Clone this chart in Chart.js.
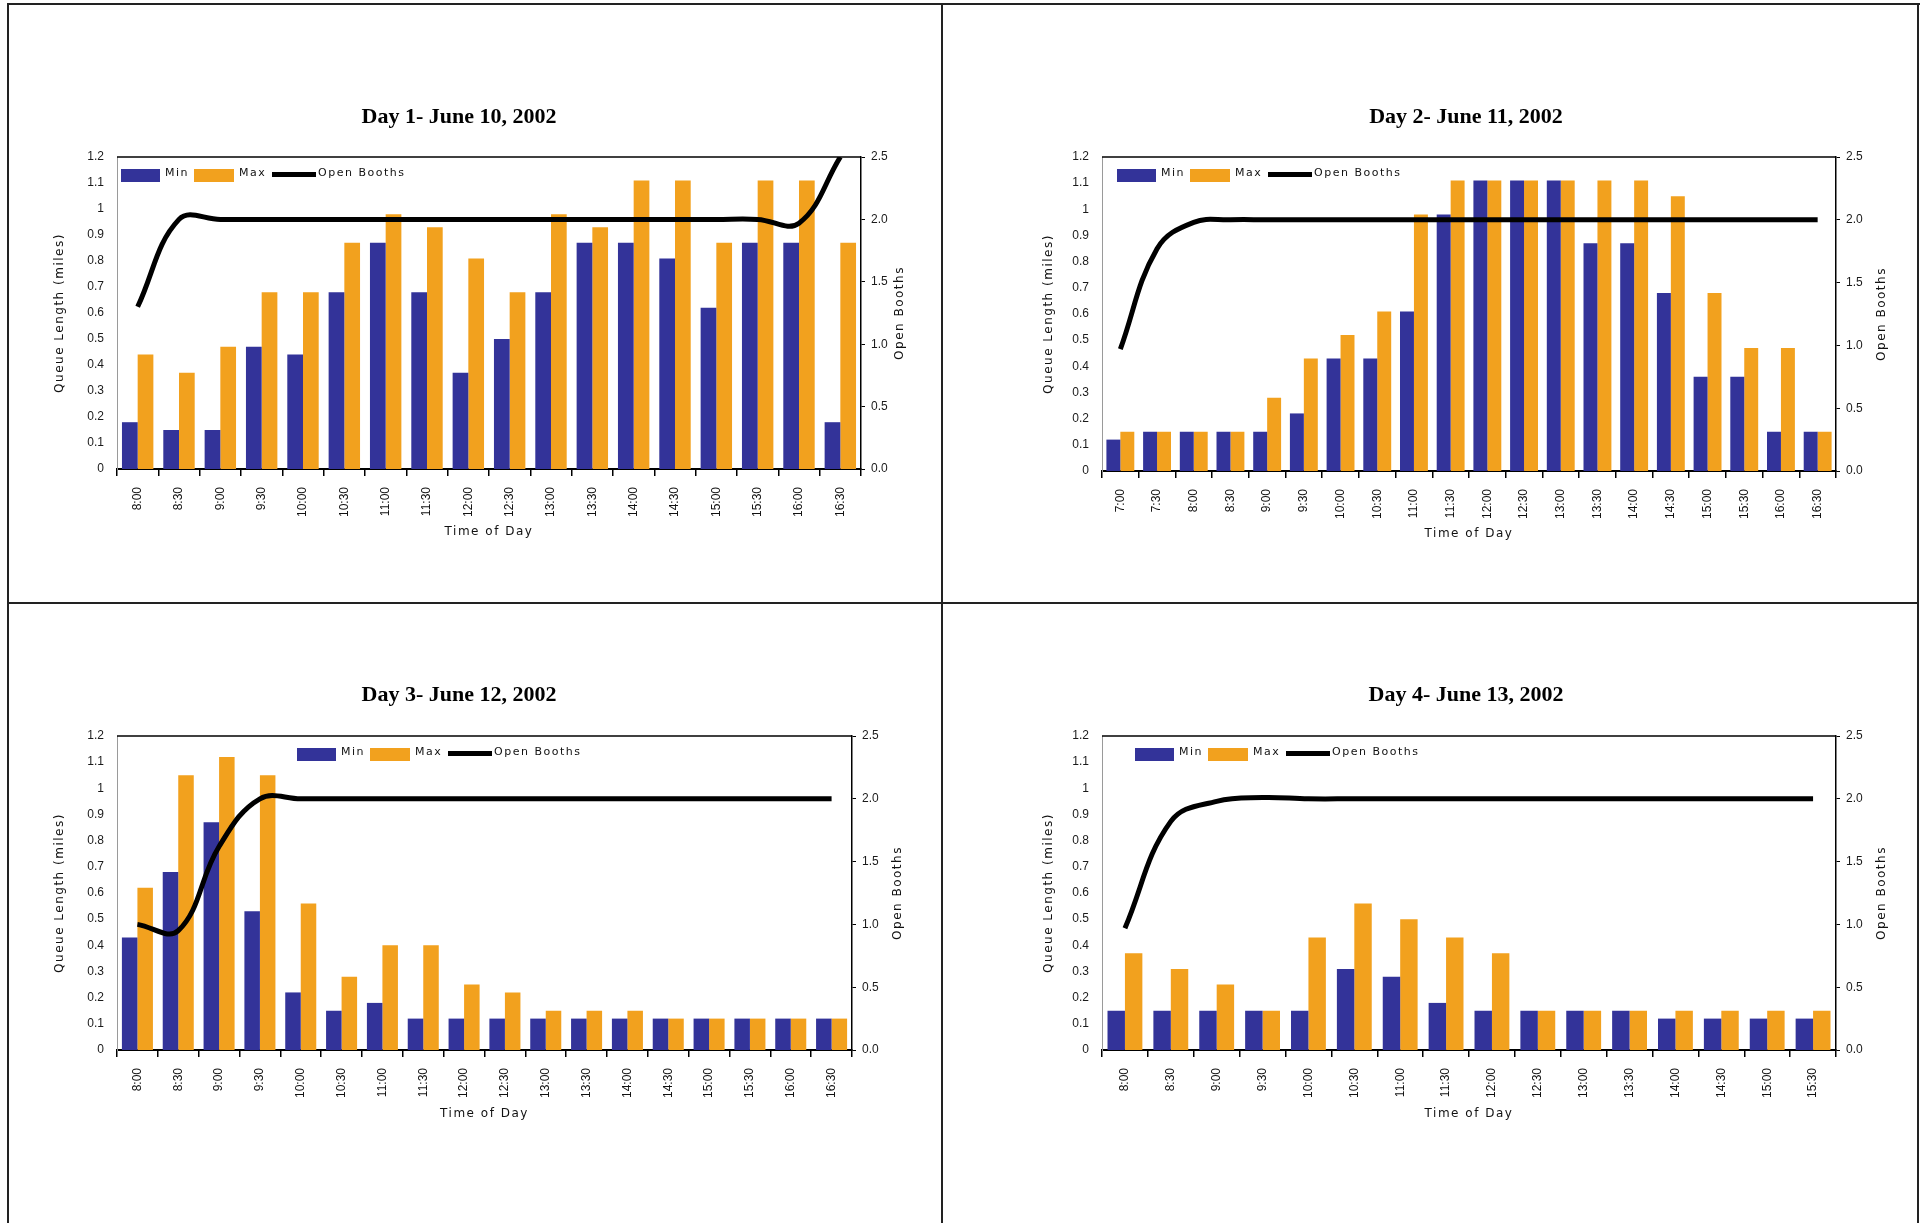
<!DOCTYPE html>
<html>
<head>
<meta charset="utf-8">
<script src="https://cdn.jsdelivr.net/npm/chart.js@4.4.0/dist/chart.umd.min.js"></script>
<style>
  html, body { margin: 0; padding: 0; background: #fff; overflow: hidden; }
  #page { position: relative; width: 1925px; height: 1223px; }
  .rule { position: absolute; background: #222; }
  canvas { position: absolute; }
</style>
</head>
<body>
<div id="page">
  <div class="rule" style="left:7px;top:3px;width:1913px;height:2px"></div>
  <div class="rule" style="left:7px;top:3px;width:2px;height:1220px"></div>
  <div class="rule" style="left:1917px;top:3px;width:2px;height:1220px"></div>
  <div class="rule" style="left:941px;top:3px;width:2px;height:1220px"></div>
  <div class="rule" style="left:7px;top:602px;width:1912px;height:2px"></div>
  <canvas id="day1"></canvas>
  <canvas id="day2"></canvas>
  <canvas id="day3"></canvas>
  <canvas id="day4"></canvas>
</div>
<script>
// queue lengths (miles) and open booths
var day1Times = ["8:00","8:30","9:00","9:30","10:00","10:30","11:00","11:30","12:00","12:30","13:00","13:30","14:00","14:30","15:00","15:30","16:00","16:30"];
var day1Min = [0.18, 0.15, 0.15, 0.47, 0.44, 0.68, 0.87, 0.68, 0.37, 0.50, 0.68, 0.87, 0.87, 0.81, 0.62, 0.87, 0.87, 0.18];
var day1Max = [0.44, 0.37, 0.47, 0.68, 0.68, 0.87, 0.98, 0.93, 0.81, 0.68, 0.98, 0.93, 1.11, 1.11, 0.87, 1.11, 1.11, 0.87];
var day1Booths = [1.3, 2.0, 2.0, 2.0, 2.0, 2.0, 2.0, 2.0, 2.0, 2.0, 2.0, 2.0, 2.0, 2.0, 2.0, 2.0, 1.97, 2.5];

var day2Times = ["7:00","7:30","8:00","8:30","9:00","9:30","10:00","10:30","11:00","11:30","12:00","12:30","13:00","13:30","14:00","14:30","15:00","15:30","16:00","16:30"];
var day2Min = [0.12, 0.15, 0.15, 0.15, 0.15, 0.22, 0.43, 0.43, 0.61, 0.98, 1.11, 1.11, 1.11, 0.87, 0.87, 0.68, 0.36, 0.36, 0.15, 0.15];
var day2Max = [0.15, 0.15, 0.15, 0.15, 0.28, 0.43, 0.52, 0.61, 0.98, 1.11, 1.11, 1.11, 1.11, 1.11, 1.11, 1.05, 0.68, 0.47, 0.47, 0.15];
var day2Booths = [0.97, 1.77, 1.98, 2.0, 2.0, 2.0, 2.0, 2.0, 2.0, 2.0, 2.0, 2.0, 2.0, 2.0, 2.0, 2.0, 2.0, 2.0, 2.0, 2.0];

var day3Times = ["8:00","8:30","9:00","9:30","10:00","10:30","11:00","11:30","12:00","12:30","13:00","13:30","14:00","14:30","15:00","15:30","16:00","16:30"];
var day3Min = [0.43, 0.68, 0.87, 0.53, 0.22, 0.15, 0.18, 0.12, 0.12, 0.12, 0.12, 0.12, 0.12, 0.12, 0.12, 0.12, 0.12, 0.12];
var day3Max = [0.62, 1.05, 1.12, 1.05, 0.56, 0.28, 0.40, 0.40, 0.25, 0.22, 0.15, 0.15, 0.15, 0.12, 0.12, 0.12, 0.12, 0.12];
var day3Booths = [1.0, 0.95, 1.62, 2.0, 2.0, 2.0, 2.0, 2.0, 2.0, 2.0, 2.0, 2.0, 2.0, 2.0, 2.0, 2.0, 2.0, 2.0];

var day4Times = ["8:00","8:30","9:00","9:30","10:00","10:30","11:00","11:30","12:00","12:30","13:00","13:30","14:00","14:30","15:00","15:30"];
var day4Min = [0.15, 0.15, 0.15, 0.15, 0.15, 0.31, 0.28, 0.18, 0.15, 0.15, 0.15, 0.15, 0.12, 0.12, 0.12, 0.12];
var day4Max = [0.37, 0.31, 0.25, 0.15, 0.43, 0.56, 0.50, 0.43, 0.37, 0.15, 0.15, 0.15, 0.15, 0.15, 0.15, 0.15];
var day4Booths = [0.97, 1.82, 1.98, 2.01, 2.0, 2.0, 2.0, 2.0, 2.0, 2.0, 2.0, 2.0, 2.0, 2.0, 2.0, 2.0];

var MIN_COLOR = "#333399";
var MAX_COLOR = "#F2A11E";

Chart.defaults.font.family = '"Liberation Sans", Arial, sans-serif';
Chart.defaults.font.size = 12;
Chart.defaults.color = "#1a1a1a";

// title, in-plot legend, axis titles and the top frame line
var panelDecor = {
  id: "panelDecor",
  afterDraw: function (chart, args, o) {
    var ctx = chart.ctx, a = chart.chartArea, ds = chart.data.datasets;
    ctx.save();
    ctx.strokeStyle = "#000";
    ctx.lineWidth = 1.5;
    ctx.beginPath();
    ctx.moveTo(a.left, a.top);
    ctx.lineTo(a.right, a.top);
    ctx.stroke();

    ctx.fillStyle = "#000";
    ctx.font = 'bold 22px "Liberation Serif", "Times New Roman", serif';
    ctx.textAlign = "center";
    ctx.textBaseline = "middle";
    ctx.fillText(o.title, o.titleX - o.ox, o.titleY - o.oy);

    // legend
    var lx = a.left + o.legendDx, ly = a.top + 12;
    ctx.font = '11px "DejaVu Sans", sans-serif';
    ctx.letterSpacing = "1.5px";
    ctx.textAlign = "left";
    ctx.textBaseline = "top";
    ctx.fillStyle = MIN_COLOR;
    ctx.fillRect(lx, ly, 39, 13);
    ctx.fillStyle = "#111";
    ctx.fillText(ds[0].label, lx + 44, ly - 1);
    ctx.fillStyle = MAX_COLOR;
    ctx.fillRect(lx + 73, ly, 40, 13);
    ctx.fillStyle = "#111";
    ctx.fillText(ds[1].label, lx + 118, ly - 1);
    ctx.fillStyle = "#000";
    ctx.fillRect(lx + 151, ly + 3, 44, 5);
    ctx.fillStyle = "#111";
    ctx.fillText(ds[2].label, lx + 197, ly - 1);

    // axis titles
    ctx.font = '12px "DejaVu Sans", sans-serif';
    ctx.textAlign = "center";
    ctx.textBaseline = "middle";
    var midY = (a.top + a.bottom) / 2;
    ctx.fillText("Time of Day", (a.left + a.right) / 2, o.bottomTitleY - o.oy);
    ctx.save();
    ctx.translate(o.leftTitleX - o.ox, midY);
    ctx.rotate(-Math.PI / 2);
    ctx.fillText("Queue Length (miles)", 0, 0);
    ctx.restore();
    ctx.save();
    ctx.translate(o.rightTitleX - o.ox, midY);
    ctx.rotate(-Math.PI / 2);
    ctx.fillText("Open Booths", 0, 0);
    ctx.restore();
    ctx.restore();
  }
};

function makeChart(id, box, area, text, times, mins, maxs, booths) {
  var canvas = document.getElementById(id);
  canvas.width = box.w;
  canvas.height = box.h;
  canvas.style.left = box.x + "px";
  canvas.style.top = box.y + "px";
  canvas.style.width = box.w + "px";
  canvas.style.height = box.h + "px";

  return new Chart(canvas, {
    type: "bar",
    data: {
      labels: times,
      datasets: [
        { label: "Min", data: mins, backgroundColor: MIN_COLOR, yAxisID: "y", order: 1,
          categoryPercentage: 0.76, barPercentage: 1.0 },
        { label: "Max", data: maxs, backgroundColor: MAX_COLOR, yAxisID: "y", order: 1,
          categoryPercentage: 0.76, barPercentage: 1.0 },
        { type: "line", label: "Open Booths", data: booths, yAxisID: "y1", order: 0,
          borderColor: "#000", borderWidth: 5, pointRadius: 0, tension: 0.4, fill: false }
      ]
    },
    options: {
      responsive: false,
      animation: false,
      devicePixelRatio: 1,
      layout: { padding: { top: area.t - box.y, left: 0, right: 0, bottom: 0 } },
      plugins: {
        legend: { display: false },
        tooltip: { enabled: false },
        panelDecor: {
          ox: box.x, oy: box.y,
          title: text.title, titleX: text.titleX, titleY: text.titleY,
          legendDx: text.legendDx, bottomTitleY: text.bottomY,
          leftTitleX: text.leftX, rightTitleX: text.rightX
        }
      },
      scales: {
        x: {
          ticks: { autoSkip: false, minRotation: 90, maxRotation: 90, padding: 11, color: "#111" },
          grid: { drawOnChartArea: false, drawTicks: true, tickLength: 7, color: "#000", lineWidth: 1.5 },
          border: { color: "#000", width: 2 },
          afterFit: function (s) { s.height = box.y + box.h - area.b; }
        },
        y: {
          position: "left",
          min: 0,
          max: 1.2,
          ticks: { stepSize: 0.1, padding: 13, callback: function (v) { return String(+v.toFixed(1)); } },
          grid: { display: false, drawTicks: false },
          border: { color: "#9a9a9a", width: 1, dash: [3, 3] },
          afterFit: function (s) { s.width = area.l - box.x; }
        },
        y1: {
          position: "right",
          min: 0,
          max: 2.5,
          ticks: { stepSize: 0.5, padding: 6, callback: function (v) { return v.toFixed(1); } },
          grid: { drawOnChartArea: false, drawTicks: true, tickLength: 4, color: "#000" },
          border: { color: "#000", width: 1.5 },
          afterFit: function (s) { s.width = box.x + box.w - area.r; }
        }
      }
    },
    plugins: [panelDecor]
  });
}

makeChart("day1",
  { x: 10, y: 6, w: 930, h: 595 },
  { l: 117, t: 157, r: 861, b: 469 },
  { title: "Day 1- June 10, 2002", titleX: 459, titleY: 117, legendDx: 4, bottomY: 532, leftX: 60, rightX: 900 },
  day1Times, day1Min, day1Max, day1Booths);

makeChart("day2",
  { x: 944, y: 6, w: 972, h: 595 },
  { l: 1102, t: 157, r: 1836, b: 471 },
  { title: "Day 2- June 11, 2002", titleX: 1466, titleY: 117, legendDx: 15, bottomY: 534, leftX: 1049, rightX: 1882 },
  day2Times, day2Min, day2Max, day2Booths);

makeChart("day3",
  { x: 10, y: 606, w: 930, h: 615 },
  { l: 117, t: 736, r: 852, b: 1050 },
  { title: "Day 3- June 12, 2002", titleX: 459, titleY: 695, legendDx: 180, bottomY: 1114, leftX: 60, rightX: 898 },
  day3Times, day3Min, day3Max, day3Booths);

makeChart("day4",
  { x: 944, y: 606, w: 972, h: 615 },
  { l: 1102, t: 736, r: 1836, b: 1050 },
  { title: "Day 4- June 13, 2002", titleX: 1466, titleY: 695, legendDx: 33, bottomY: 1114, leftX: 1049, rightX: 1882 },
  day4Times, day4Min, day4Max, day4Booths);
</script>
</body>
</html>
